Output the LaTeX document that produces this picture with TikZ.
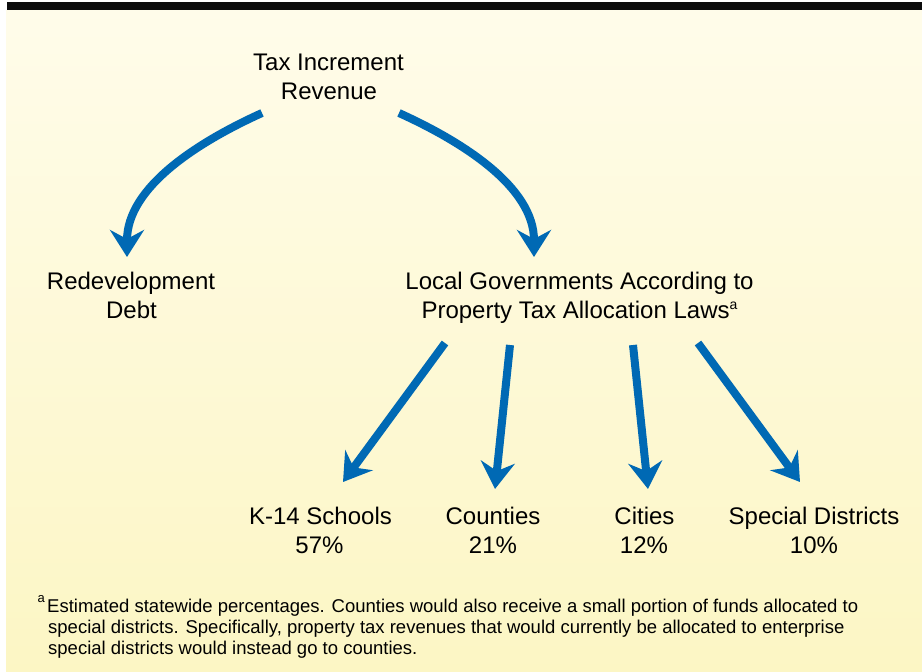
\documentclass[tikz,border=0pt]{standalone}
\usepackage{fontspec}
\setmainfont{Liberation Sans}
\usetikzlibrary{arrows.meta}
\definecolor{arrowblue}{RGB}{0,105,180}
\definecolor{bgtop}{RGB}{255,252,234}
\definecolor{bgbot}{RGB}{252,246,196}
\definecolor{barblack}{RGB}{12,12,12}
\begin{document}
\begin{tikzpicture}[x=1pt,y=-1pt,
  lbl/.style={font=\fontsize{24}{29}\selectfont, inner sep=0pt, anchor=base},
  note/.style={font=\fontsize{18.5}{21}\selectfont, inner sep=0pt, anchor=base west},
  supnote/.style={font=\fontsize{13}{13}\selectfont, inner sep=0pt, anchor=base west},
  flow/.style={draw=arrowblue, line width=8pt, -{Stealth[length=27pt,width=34pt,inset=9pt]}},
]
\useasboundingbox (0,0) rectangle (922,672);
% background
\shade[top color=bgtop, bottom color=bgbot] (6,10) rectangle (922,672);
\fill[barblack] (7,2) rectangle (922,10);

% labels
\node[lbl] (tax1) at (328.5,70) {Tax Increment};
\node[lbl] (tax2) at (329,99) {Revenue};
\node[lbl] (red1) at (131,289) {Redevelopment};
\node[lbl] (red2) at (131.5,318) {Debt};
\node[lbl] (loc1) at (579.5,289) {Local Governments According to};
\node[lbl] (loc2) at (579.5,318) {Property Tax Allocation Laws\raisebox{9pt}{\fontsize{14}{14}\selectfont a}};
\node[lbl] (k1) at (320.5,524) {K-14 Schools};
\node[lbl] (k2) at (319.5,553) {57\%};
\node[lbl] (co1) at (493,524) {Counties};
\node[lbl] (co2) at (493,553) {21\%};
\node[lbl] (ci1) at (644.5,524) {Cities};
\node[lbl] (ci2) at (644,553) {12\%};
\node[lbl] (sd1) at (814,524) {Special Districts};
\node[lbl] (sd2) at (814,553) {10\%};

% footnote
\node[supnote] (fna) at (37.5,602) {a};
\node[note] (fn1) at (47,612) {Estimated statewide percentages. Counties would also receive a small portion of funds allocated to};
\node[note] (fn2) at (48,633) {special districts. Specifically, property tax revenues that would currently be allocated to enterprise};
\node[note] (fn3) at (48,654) {special districts would instead go to counties.};

% arrow end points
\coordinate (taxL) at (262,113);
\coordinate (taxR) at (399,113);
\coordinate (redT) at (127,257);
\coordinate (locT) at (534,257);
\coordinate (locA) at (445,343);
\coordinate (locB) at (510,345);
\coordinate (locC) at (633,345);
\coordinate (locD) at (698,343);
\coordinate (kT) at (343,482);
\coordinate (coT) at (495,489);
\coordinate (ciT) at (648,489);
\coordinate (sdT) at (800,482);

% arrows
\draw[flow] (taxL) .. controls (198,142) and (127,187) .. (redT);
\draw[flow] (taxR) .. controls (463,142) and (534,187) .. (locT);
\draw[flow] (locA) -- (kT);
\draw[flow] (locB) -- (coT);
\draw[flow] (locC) -- (ciT);
\draw[flow] (locD) -- (sdT);
\end{tikzpicture}
\end{document}
